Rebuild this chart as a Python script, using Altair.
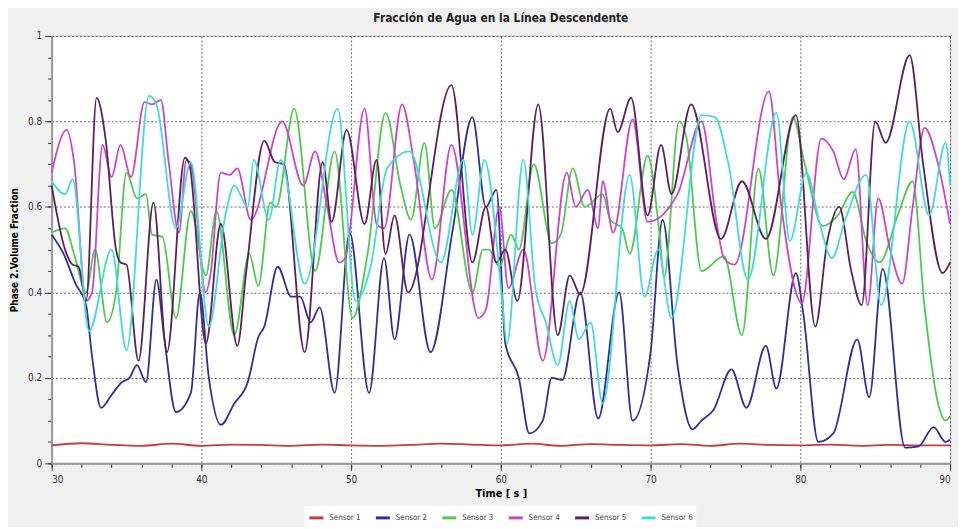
import altair as alt
import pandas as pd

sensors = ["Sensor 1", "Sensor 2", "Sensor 3", "Sensor 4", "Sensor 5", "Sensor 6"]
colors = ["#c83c3c", "#2e2e9e", "#4ccc4c", "#cc44cc", "#5c1e5c", "#40dcdc"]

s1_t = [30, 32, 34, 36, 38, 40, 42, 44, 46, 48, 50, 52, 54, 56, 58, 60, 62, 64, 66, 68, 70, 72, 74, 76, 78, 80, 82, 84, 86, 88, 90]
s1_v = [0.042, 0.047, 0.043, 0.041, 0.046, 0.041, 0.044, 0.043, 0.041, 0.044, 0.042, 0.041, 0.043, 0.046, 0.044, 0.042,
        0.046, 0.041, 0.045, 0.043, 0.042, 0.045, 0.041, 0.046, 0.043, 0.042, 0.044, 0.041, 0.043, 0.042, 0.042]

s2_t = [30.0, 30.8, 31.6, 32.3, 32.7, 33.3, 34.0, 34.7, 35.2, 35.7, 36.3, 37.0, 37.5, 38.3, 39.3, 39.9, 40.5, 41.3, 42.2,
        43.1, 43.8, 44.2, 45.1, 46.0, 46.6, 47.3, 47.9, 48.9, 49.9, 51.2, 52.2, 52.9, 53.9, 55.3, 56.8, 58.1, 59.0, 59.7,
        60.3, 61.2, 61.9, 62.8, 63.4, 64.1, 65.3, 66.5, 67.9, 68.8, 70.0, 70.8, 71.8, 72.8, 73.4, 74.2, 75.4, 76.4, 77.7,
        78.4, 79.7, 80.2, 81.2, 82.2, 83.8, 84.6, 85.5, 87.0, 87.9, 88.9, 89.7, 90.0]
s2_v = [0.535, 0.49, 0.42, 0.37, 0.25, 0.13, 0.16, 0.19, 0.20, 0.23, 0.19, 0.43, 0.30, 0.12, 0.165, 0.40, 0.20, 0.09, 0.14,
        0.19, 0.295, 0.32, 0.46, 0.39, 0.39, 0.33, 0.365, 0.165, 0.54, 0.165, 0.48, 0.29, 0.535, 0.26, 0.55, 0.81, 0.60, 0.64,
        0.28, 0.20, 0.07, 0.10, 0.20, 0.195, 0.40, 0.105, 0.40, 0.10, 0.26, 0.57, 0.23, 0.08, 0.10, 0.125, 0.22, 0.13, 0.275,
        0.175, 0.445, 0.35, 0.05, 0.07, 0.29, 0.155, 0.455, 0.037, 0.04, 0.085, 0.05, 0.055]

s3_t = [30.0, 30.9, 31.5, 32.3, 32.9, 33.7, 34.3, 35.0, 35.7, 36.3, 36.7, 37.4, 38.3, 39.3, 40.3, 41.0, 42.2, 43.2, 43.8,
        44.6, 45.0, 46.2, 47.6, 48.9, 50.1, 51.1, 52.3, 53.3, 54.0, 54.9, 55.6, 56.7, 58.1, 58.8, 59.2, 59.9, 60.7, 61.2,
        62.2, 63.4, 64.0, 64.8, 65.6, 66.8, 67.3, 68.1, 68.6, 69.8, 70.6, 70.9, 71.9, 72.4, 73.4, 74.9, 76.1, 77.2, 78.2,
        79.5, 80.3, 81.5, 82.5, 83.5, 84.4, 85.3, 86.5, 87.5, 88.3, 89.2, 89.7, 90.0]
s3_v = [0.54, 0.55, 0.49, 0.40, 0.50, 0.33, 0.40, 0.68, 0.62, 0.63, 0.535, 0.53, 0.34, 0.59, 0.44, 0.59, 0.30, 0.49, 0.415,
        0.61, 0.60, 0.83, 0.45, 0.73, 0.34, 0.49, 0.82, 0.65, 0.57, 0.75, 0.55, 0.64, 0.40, 0.50, 0.50, 0.46, 0.535, 0.50,
        0.70, 0.515, 0.535, 0.69, 0.60, 0.63, 0.57, 0.55, 0.49, 0.72, 0.535, 0.435, 0.80, 0.76, 0.45, 0.485, 0.30, 0.69, 0.44,
        0.81, 0.70, 0.555, 0.58, 0.635, 0.52, 0.47, 0.58, 0.66, 0.365, 0.14, 0.10, 0.11]

s4_t = [30.0, 31.0, 31.5, 32.3, 32.7, 33.4, 34.0, 34.6, 35.3, 36.2, 36.7, 37.3, 37.8, 38.5, 39.0, 39.3, 40.3, 40.6, 41.3,
        41.9, 42.4, 43.3, 45.4, 46.8, 47.6, 48.4, 49.2, 49.6, 50.9, 51.7, 52.2, 53.4, 54.2, 55.4, 56.7, 58.5, 59.0, 59.9,
        60.5, 61.5, 62.8, 64.4, 65.0, 65.8, 66.5, 66.8, 67.5, 68.8, 69.8, 71.8, 73.4, 74.4, 74.9, 75.6, 77.9, 78.7, 80.1,
        81.4, 82.2, 82.9, 83.7, 84.5, 85.2, 86.0, 86.8, 87.5, 88.3, 89.2, 90.0]
s4_v = [0.68, 0.78, 0.705, 0.38, 0.40, 0.745, 0.67, 0.745, 0.67, 0.845, 0.84, 0.85, 0.71, 0.54, 0.71, 0.70, 0.40, 0.44, 0.68,
        0.675, 0.69, 0.57, 0.80, 0.65, 0.73, 0.60, 0.47, 0.48, 0.83, 0.56, 0.55, 0.84, 0.705, 0.43, 0.745, 0.34, 0.36, 0.60,
        0.41, 0.50, 0.24, 0.68, 0.60, 0.64, 0.55, 0.66, 0.54, 0.805, 0.565, 0.63, 0.80, 0.565, 0.48, 0.465, 0.87, 0.61, 0.375,
        0.76, 0.73, 0.665, 0.735, 0.37, 0.62, 0.50, 0.42, 0.60, 0.785, 0.70, 0.56]

s5_t = [30.0, 30.9, 31.4, 31.8, 32.3, 33.0, 33.6, 34.3, 34.6, 35.0, 35.8, 36.8, 37.7, 38.9, 39.2, 40.3, 41.3, 42.4, 43.0,
        44.2, 44.9, 45.5, 46.9, 48.1, 48.7, 49.7, 50.9, 51.7, 52.3, 52.9, 53.8, 56.7, 58.1, 59.0, 59.7, 60.3, 61.1, 62.5,
        63.8, 64.6, 65.3, 67.3, 67.8, 68.7, 69.8, 70.7, 71.4, 72.7, 74.7, 76.1, 77.7, 79.7, 81.0, 81.8, 82.6, 83.4, 84.1,
        85.0, 85.7, 87.3, 88.2, 89.5, 90.0]
s5_v = [0.65, 0.50, 0.465, 0.46, 0.38, 0.855, 0.76, 0.50, 0.47, 0.465, 0.24, 0.61, 0.26, 0.715, 0.70, 0.28, 0.56, 0.275, 0.45,
        0.755, 0.705, 0.70, 0.26, 0.705, 0.565, 0.78, 0.56, 0.71, 0.49, 0.58, 0.40, 0.885, 0.47, 0.60, 0.47, 0.50, 0.38, 0.84,
        0.30, 0.44, 0.395, 0.83, 0.775, 0.855, 0.58, 0.745, 0.63, 0.84, 0.525, 0.66, 0.525, 0.815, 0.32, 0.52, 0.60, 0.45, 0.37,
        0.80, 0.75, 0.955, 0.70, 0.445, 0.47]

s6_t = [30.0, 30.9, 31.4, 32.5, 34.0, 35.0, 36.5, 37.0, 38.3, 39.3, 40.5, 41.6, 42.2, 43.1, 43.5, 44.5, 45.3, 46.9, 49.1,
        50.3, 51.3, 52.4, 53.9, 56.0, 57.5, 58.1, 58.9, 60.1, 60.4, 61.5, 62.3, 63.0, 63.8, 64.6, 65.2, 66.0, 66.8, 68.6,
        69.6, 70.5, 71.4, 73.4, 74.3, 75.2, 76.5, 78.4, 79.3, 80.4, 81.3, 82.1, 83.0, 84.4, 85.4, 87.3, 88.6, 89.7, 90.0]
s6_v = [0.66, 0.63, 0.665, 0.31, 0.50, 0.265, 0.86, 0.84, 0.55, 0.705, 0.32, 0.58, 0.65, 0.60, 0.71, 0.57, 0.71, 0.42, 0.83,
        0.38, 0.46, 0.69, 0.73, 0.47, 0.71, 0.535, 0.71, 0.38, 0.28, 0.71, 0.41, 0.33, 0.23, 0.38, 0.29, 0.33, 0.14, 0.675,
        0.39, 0.50, 0.34, 0.815, 0.81, 0.70, 0.43, 0.82, 0.52, 0.68, 0.56, 0.48, 0.57, 0.675, 0.37, 0.80, 0.58, 0.75, 0.65]

x_major = [30, 40, 50, 60, 70, 80, 90]
x_minor = list(range(30, 91, 2))
y_major = [0, 0.2, 0.4, 0.6, 0.8, 1]
y_minor = [round(i * 0.05, 2) for i in range(21)]

series = [(s1_t, s1_v), (s2_t, s2_v), (s3_t, s3_v), (s4_t, s4_v), (s5_t, s5_v), (s6_t, s6_v)]
rows = []
for name, (ts, vs) in zip(sensors, series):
    for t, v in zip(ts, vs):
        rows.append({"Time": t, "Value": v, "Sensor": name})
df = pd.DataFrame(rows)

FONT = "DejaVu Sans Condensed"
xscale = alt.Scale(domain=[30, 90], nice=False, zero=False)
yscale = alt.Scale(domain=[0, 1], nice=False)

lines = alt.Chart(df).mark_line(strokeWidth=1.8, interpolate="monotone").encode(
    x=alt.X("Time:Q", scale=xscale,
            axis=alt.Axis(orient="bottom", values=x_major, format="d", title="Time [ s ]", grid=True,
                          gridDash=[2, 2], gridColor="#444", gridWidth=0.8,
                          tickSize=7, tickColor="#333", labelFont=FONT, labelFontSize=10,
                          labelColor="#333", labelPadding=4, titleFont=FONT, titleFontSize=11,
                          titleFontWeight="bold", titlePadding=3, domainColor="#999", domainWidth=2)),
    y=alt.Y("Value:Q", scale=yscale,
            axis=alt.Axis(orient="left", values=y_major, format="~g", title="Phase 2.Volume Fraction", grid=True,
                          gridDash=[2, 2], gridColor="#444", gridWidth=0.8,
                          tickSize=7, tickColor="#333", labelFont=FONT, labelFontSize=10,
                          labelColor="#333", labelPadding=3, titleFont=FONT, titleFontSize=10,
                          titleFontWeight="bold", titlePadding=8, domainColor="#999", domainWidth=2)),
    color=alt.Color("Sensor:N", scale=alt.Scale(domain=sensors, range=colors),
                    legend=alt.Legend(orient="none", direction="horizontal", legendX=255, legendY=474,
                                      title=None, symbolType="stroke", symbolStrokeWidth=3,
                                      symbolSize=200, labelFont=FONT, labelFontSize=8,
                                      labelColor="#444", fillColor="white", padding=3,
                                      columnPadding=8)),
)

minor = alt.Chart(df).mark_line(opacity=0).encode(
    x=alt.X("Time:Q", scale=xscale,
            axis=alt.Axis(orient="bottom", values=x_minor, labels=False, title=None, grid=False, tickSize=4,
                          tickColor="#333", tickWidth=1, domain=False)),
    y=alt.Y("Value:Q", scale=yscale,
            axis=alt.Axis(orient="left", values=y_minor, labels=False, title=None, grid=False, tickSize=4,
                          tickColor="#333", tickWidth=1, domain=False)),
    detail="Sensor:N",
)

chart = alt.layer(minor, lines).resolve_axis(x="independent", y="independent").properties(
    width=906, height=431,
    title=alt.Title("Fracción de Agua en la Línea Descendente", font=FONT, fontSize=12,
                    fontWeight="bold", color="#222", anchor="middle", offset=6),
    background="#f0f0f0",
    padding={"left": 44, "top": 26, "right": 8, "bottom": 62},
    autosize=alt.AutoSizeParams(type="none"),
).configure_view(fill="white", stroke="#bbb", strokeWidth=1)

chart.save("out.html", embed_options={"renderer": "svg", "actions": False})
